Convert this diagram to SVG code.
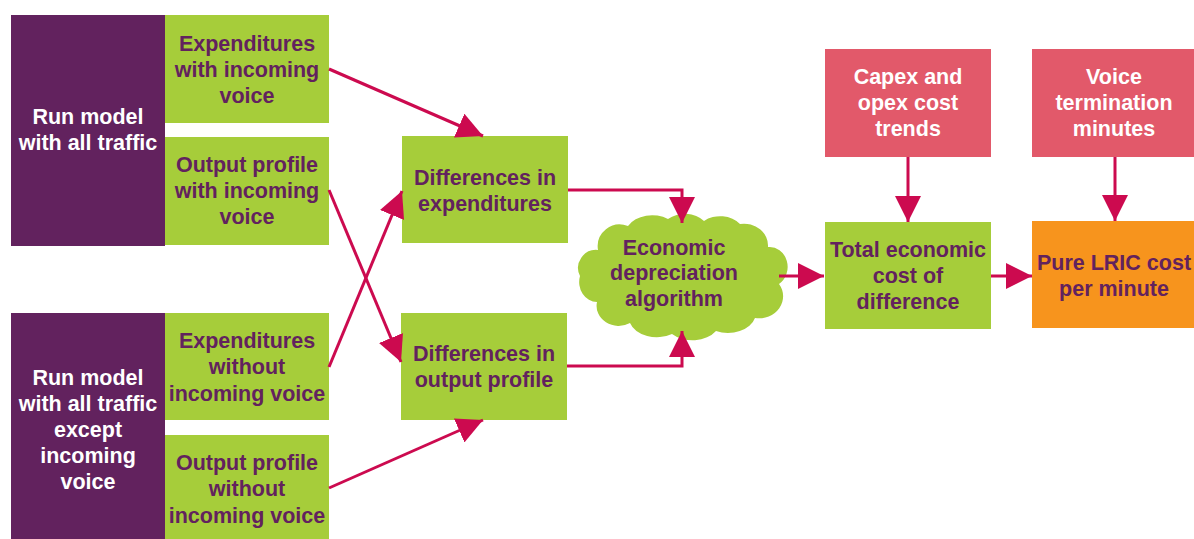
<svg xmlns="http://www.w3.org/2000/svg" width="1194" height="539" viewBox="0 0 1194 539">
<defs>
<style>
.p{fill:#62225e}
.g{fill:#a6cd3a}
.r{fill:#e2596a}
.o{fill:#f7941d}
text{font-family:"Liberation Sans",Arial,sans-serif;font-weight:bold;font-size:21.5px;text-anchor:middle}
.tw{fill:#ffffff}
.tp{fill:#62225e}
.c{fill:none;stroke:#cc0a4f;stroke-width:3}
</style>
<marker id="ah" markerUnits="userSpaceOnUse" markerWidth="28" markerHeight="26" refX="26" refY="13" orient="auto">
<path d="M0,0 L26,13 L0,26 Z" fill="#cc0a4f"/>
</marker>
</defs>
<rect width="1194" height="539" fill="#ffffff"/>

<g id="run-all">
<rect class="p" x="11" y="15" width="154" height="231"/>
<text class="tw" x="88" y="124">Run model</text>
<text class="tw" x="88" y="150">with all traffic</text>
</g>
<g id="exp-with">
<rect class="g" x="165" y="15" width="164" height="108"/>
<text class="tp" x="247" y="51">Expenditures</text>
<text class="tp" x="247" y="77">with incoming</text>
<text class="tp" x="247" y="103">voice</text>
</g>
<g id="out-with">
<rect class="g" x="165" y="137" width="164" height="108"/>
<text class="tp" x="247" y="172">Output profile</text>
<text class="tp" x="247" y="198">with incoming</text>
<text class="tp" x="247" y="224">voice</text>
</g>
<g id="run-except">
<rect class="p" x="11" y="313" width="154" height="226"/>
<text class="tw" x="88" y="385">Run model</text>
<text class="tw" x="88" y="411">with all traffic</text>
<text class="tw" x="88" y="437">except</text>
<text class="tw" x="88" y="463">incoming</text>
<text class="tw" x="88" y="489">voice</text>
</g>
<g id="exp-without">
<rect class="g" x="165" y="313" width="164" height="107"/>
<text class="tp" x="247" y="348">Expenditures</text>
<text class="tp" x="247" y="374">without</text>
<text class="tp" x="247" y="401">incoming voice</text>
</g>
<g id="out-without">
<rect class="g" x="165" y="435" width="164" height="104"/>
<text class="tp" x="247" y="470">Output profile</text>
<text class="tp" x="247" y="496">without</text>
<text class="tp" x="247" y="523">incoming voice</text>
</g>
<g id="diff-exp">
<rect class="g" x="402" y="136" width="166" height="107"/>
<text class="tp" x="485" y="185">Differences in</text>
<text class="tp" x="485" y="211">expenditures</text>
</g>
<g id="diff-out">
<rect class="g" x="401" y="313" width="166" height="107"/>
<text class="tp" x="484" y="361">Differences in</text>
<text class="tp" x="484" y="387">output profile</text>
</g>
<g id="cloud">
<path class="g" d="M598,250 A22,22 0 0 1 628,226 A28,22 0 0 1 668,219 A25,20 0 0 1 704,221 A25,20 0 0 1 740,224 A24,22 0 0 1 768,247 A18,20 0 0 1 779,284 A24,22 0 0 1 755,318 A28,20 0 0 1 716,331 A28,20 0 0 1 672,334 A28,20 0 0 1 630,323 A22,20 0 0 1 597,302 A18,20 0 0 1 580,276 A18,18 0 0 1 598,250 Z"/>
<text class="tp" x="674" y="255">Economic</text>
<text class="tp" x="674" y="280">depreciation</text>
<text class="tp" x="674" y="306">algorithm</text>
</g>
<g id="capex">
<rect class="r" x="825" y="49" width="166" height="108"/>
<text class="tw" x="908" y="84">Capex and</text>
<text class="tw" x="908" y="110">opex cost</text>
<text class="tw" x="908" y="136">trends</text>
</g>
<g id="voice-min">
<rect class="r" x="1032" y="49" width="162" height="108"/>
<text class="tw" x="1114" y="84">Voice</text>
<text class="tw" x="1114" y="110">termination</text>
<text class="tw" x="1114" y="136">minutes</text>
</g>
<g id="total">
<rect class="g" x="825" y="222" width="166" height="107"/>
<text class="tp" x="908" y="257">Total economic</text>
<text class="tp" x="908" y="283">cost of</text>
<text class="tp" x="908" y="309">difference</text>
</g>
<g id="lric">
<rect class="o" x="1032" y="221" width="162" height="107"/>
<text class="tp" x="1114" y="270">Pure LRIC cost</text>
<text class="tp" x="1114" y="296">per minute</text>
</g>

<g id="connectors">
<line class="c" x1="329" y1="69" x2="483" y2="136" marker-end="url(#ah)"/>
<line class="c" x1="329" y1="190" x2="401" y2="362" marker-end="url(#ah)"/>
<line class="c" x1="329" y1="367" x2="402" y2="191" marker-end="url(#ah)"/>
<line class="c" x1="329" y1="488" x2="483" y2="420" marker-end="url(#ah)"/>
<polyline class="c" points="568,190 682,190 682,223" marker-end="url(#ah)"/>
<polyline class="c" points="567,366 682,366 682,331" marker-end="url(#ah)"/>
<line class="c" x1="779" y1="276" x2="824" y2="276" marker-end="url(#ah)"/>
<line class="c" x1="908" y1="157" x2="908" y2="222" marker-end="url(#ah)"/>
<line class="c" x1="1115" y1="157" x2="1115" y2="221" marker-end="url(#ah)"/>
<line class="c" x1="991" y1="276" x2="1032" y2="276" marker-end="url(#ah)"/>
</g>
</svg>
